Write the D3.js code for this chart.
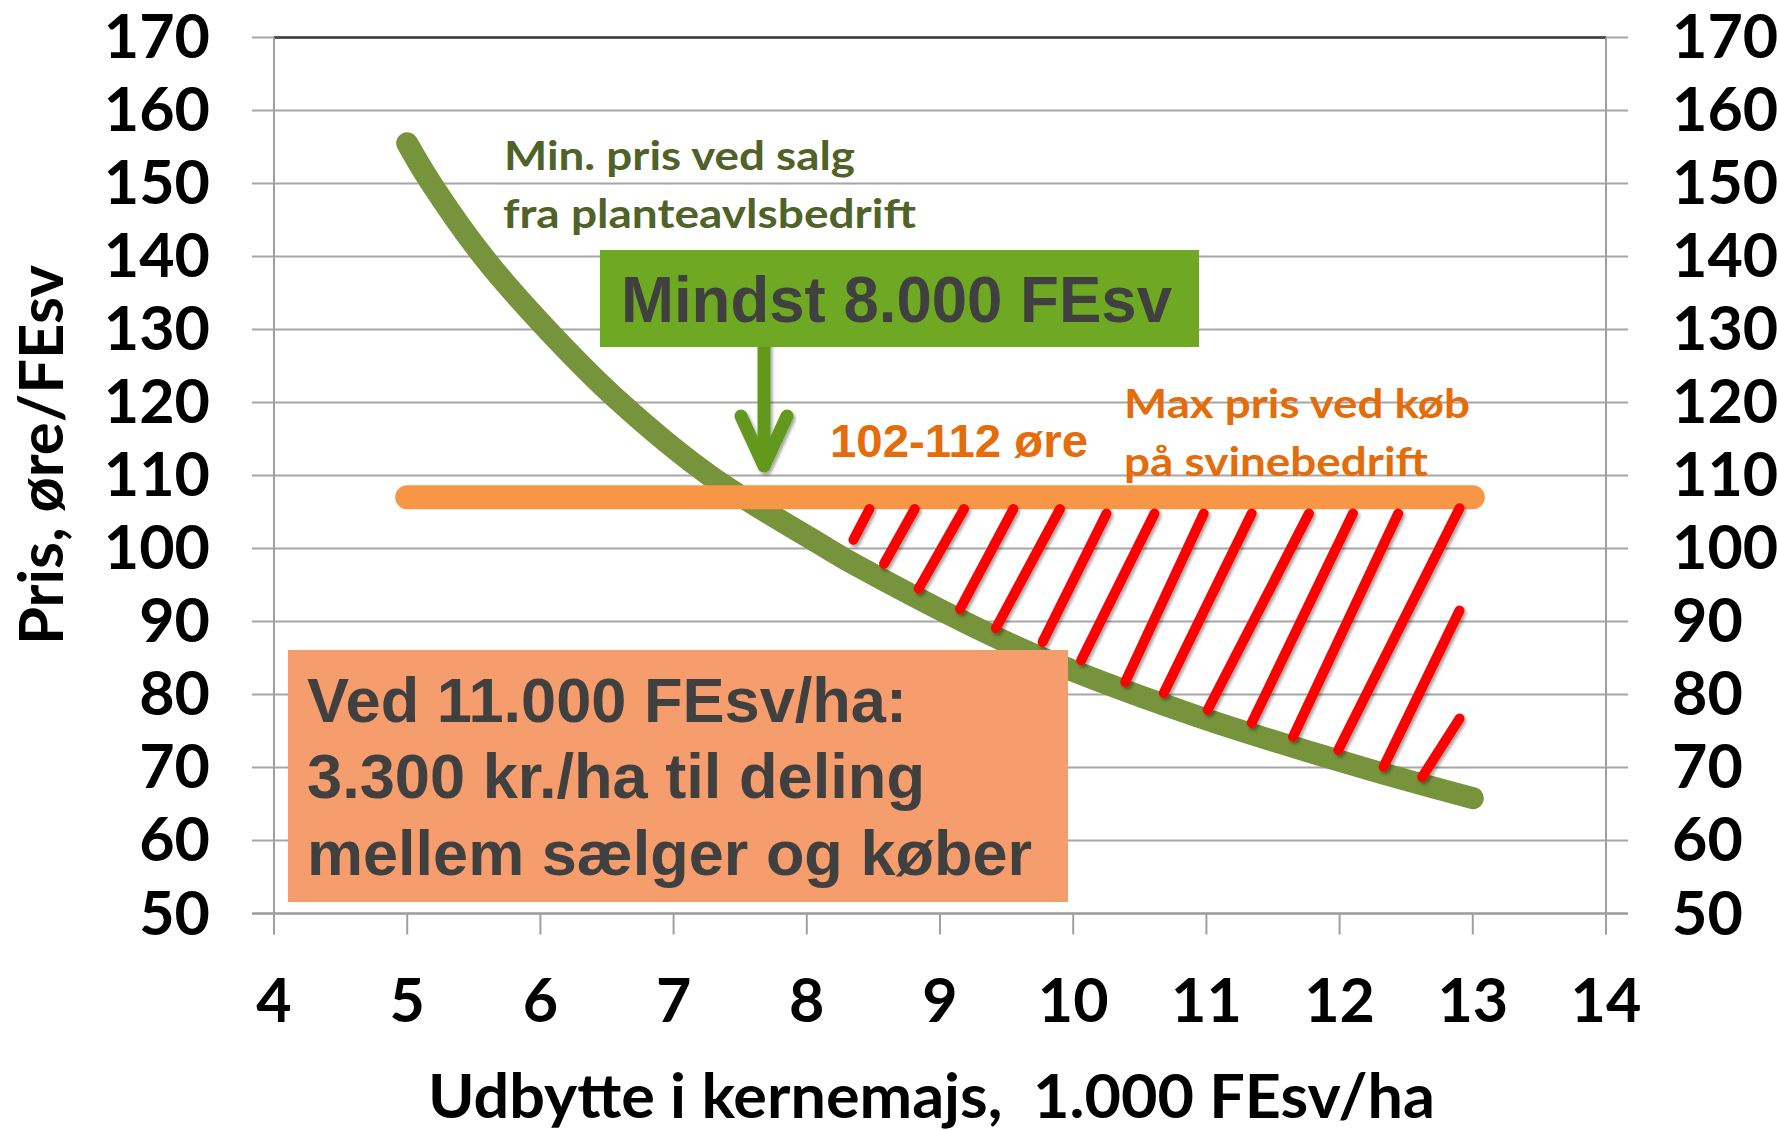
<!DOCTYPE html>
<html>
<head>
<meta charset="utf-8">
<script src="https://cdn.jsdelivr.net/npm/d3@7"></script>
<style>
  body { margin: 0; background: #fff; }
  text { white-space: pre; }
</style>
</head>
<body>
<svg id="viz"></svg>
<script>
// axis ticks
const xTicks = [4, 5, 6, 7, 8, 9, 10, 11, 12, 13, 14];
const yTicks = [50, 60, 70, 80, 90, 100, 110, 120, 130, 140, 150, 160, 170];

// min price when selling from the crop farm (green curve)
const yieldX = [5, 5.17, 5.57, 6.05, 6.6, 7.27, 8.1, 8.4, 9.65, 10.9, 12.15, 13];
const minPrice = [155.5, 150.3, 140, 130, 120, 110, 100.6, 97.4, 85.9, 77.2, 70.1, 65.8];

// max price when buying at the pig farm (orange line)
const maxPriceX = [5, 13];
const maxPrice = [107, 107];

// red hatch strokes between the two curves
const hatchX1 = [8.47, 8.81, 9.18, 9.55, 9.90, 10.25, 10.61, 10.98, 11.34, 11.77, 12.10, 12.44, 12.90, 12.90, 12.90];
const hatchY1 = [105.4, 105.4, 105.4, 105.4, 105.4, 104.8, 104.8, 104.8, 104.8, 104.8, 104.8, 104.8, 105.5, 91.5, 76.7];
const hatchX2 = [8.35, 8.58, 8.84, 9.15, 9.42, 9.77, 10.06, 10.39, 10.68, 11.01, 11.34, 11.65, 11.99, 12.33, 12.62];
const hatchY2 = [101.2, 97.9, 94.5, 91.7, 89.1, 87.2, 84.7, 81.7, 80.2, 77.9, 76.1, 74.2, 72.4, 70.1, 68.7];

const W = 1777, H = 1131;
const svg = d3.select("#viz").attr("width", W).attr("height", H);

const x = d3.scaleLinear().domain([4, 14]).range([274, 1606]);
const y = d3.scaleLinear().domain([50, 170]).range([913.5, 37.4]);

const calibri = "Lato, 'Open Sans', sans-serif";
const arial = "'Liberation Sans', Arial, sans-serif";

// drop shadow for the hatch + arrow
const defs = svg.append("defs");
const f = defs.append("filter").attr("id", "shadow")
  .attr("x", "-20%").attr("y", "-20%").attr("width", "140%").attr("height", "140%");
f.append("feDropShadow").attr("dx", 2).attr("dy", 2.5).attr("stdDeviation", 1.6)
  .attr("flood-color", "#000").attr("flood-opacity", 0.35);

// gridlines (with outside ticks on both sides)
svg.append("g").selectAll("line")
  .data(yTicks)
  .join("line")
  .attr("x1", x(4) - 22).attr("x2", x(14) + 22)
  .attr("y1", d => y(d)).attr("y2", d => y(d))
  .attr("stroke", d => d === 50 ? "#9a9a9a" : "#a6a6a6")
  .attr("stroke-width", d => d === 50 ? 2.5 : 2);

// top border
svg.append("line")
  .attr("x1", x(4)).attr("x2", x(14)).attr("y1", y(170)).attr("y2", y(170))
  .attr("stroke", "#3a3a3a").attr("stroke-width", 2.5);

// vertical axis lines
svg.append("g").selectAll("line")
  .data([4, 14])
  .join("line")
  .attr("x1", d => x(d)).attr("x2", d => x(d))
  .attr("y1", y(170)).attr("y2", y(50) + 21)
  .attr("stroke", "#a0a0a0").attr("stroke-width", 2);

// x ticks
svg.append("g").selectAll("line")
  .data(xTicks)
  .join("line")
  .attr("x1", d => x(d)).attr("x2", d => x(d))
  .attr("y1", y(50)).attr("y2", y(50) + 21)
  .attr("stroke", "#a0a0a0").attr("stroke-width", 2);

// tick labels
const tickFont = { family: calibri, size: 61 };
svg.append("g").selectAll("text")
  .data(yTicks)
  .join("text")
  .attr("x", 210).attr("y", d => y(d) + 21)
  .attr("text-anchor", "end")
  .attr("font-family", tickFont.family).attr("font-weight", 700).attr("font-size", tickFont.size)
  .attr("fill", "#000")
  .text(d => d);

svg.append("g").selectAll("text")
  .data(yTicks)
  .join("text")
  .attr("x", 1672).attr("y", d => y(d) + 21)
  .attr("text-anchor", "start")
  .attr("font-family", tickFont.family).attr("font-weight", 700).attr("font-size", tickFont.size)
  .attr("fill", "#000")
  .text(d => d);

svg.append("g").selectAll("text")
  .data(xTicks)
  .join("text")
  .attr("x", d => x(d)).attr("y", 1022)
  .attr("text-anchor", "middle")
  .attr("font-family", tickFont.family).attr("font-weight", 700).attr("font-size", tickFont.size)
  .attr("fill", "#000")
  .text(d => d);

// axis titles
svg.append("text")
  .attr("x", 931.5).attr("y", 1118)
  .attr("text-anchor", "middle")
  .attr("font-family", calibri).attr("font-weight", 700).attr("font-size", 61)
  .attr("textLength", 1007).attr("lengthAdjust", "spacingAndGlyphs")
  .text("Udbytte i kernemajs,  1.000 FEsv/ha");

svg.append("text")
  .attr("transform", "translate(63,455) rotate(-90)")
  .attr("text-anchor", "middle")
  .attr("font-family", calibri).attr("font-weight", 700).attr("font-size", 61)
  .attr("textLength", 380).attr("lengthAdjust", "spacingAndGlyphs")
  .text("Pris, øre/FEsv");

// green curve
const curvePts = yieldX.map((v, i) => [v, minPrice[i]]);
svg.append("path")
  .datum(curvePts)
  .attr("d", d3.line().x(d => x(d[0])).y(d => y(d[1])).curve(d3.curveCatmullRom.alpha(0.5)))
  .attr("fill", "none")
  .attr("stroke", "#77933c")
  .attr("stroke-width", 22)
  .attr("stroke-linecap", "round");

// orange line
svg.append("path")
  .datum(maxPriceX.map((v, i) => [v, maxPrice[i]]))
  .attr("d", d3.line().x(d => x(d[0])).y(d => y(d[1])))
  .attr("fill", "none")
  .attr("stroke", "#f79646")
  .attr("stroke-width", 24)
  .attr("stroke-linecap", "round");

// red hatch
svg.append("g").attr("filter", "url(#shadow)")
  .selectAll("line")
  .data(hatchX1.map((v, i) => i))
  .join("line")
  .attr("x1", i => x(hatchX1[i])).attr("y1", i => y(hatchY1[i]))
  .attr("x2", i => x(hatchX2[i])).attr("y2", i => y(hatchY2[i]))
  .attr("stroke", "#ff0000")
  .attr("stroke-width", 10)
  .attr("stroke-linecap", "round");

// green label above curve
const gText = svg.append("g")
  .attr("font-family", calibri).attr("font-weight", 700).attr("font-size", 41)
  .attr("fill", "#4f6228");
gText.append("text").attr("x", 504).attr("y", 170)
  .attr("textLength", 351).attr("lengthAdjust", "spacingAndGlyphs")
  .text("Min. pris ved salg");
gText.append("text").attr("x", 503).attr("y", 228)
  .attr("textLength", 413).attr("lengthAdjust", "spacingAndGlyphs")
  .text("fra planteavlsbedrift");

// orange labels
const oText = svg.append("g")
  .attr("font-family", calibri).attr("font-weight", 700).attr("font-size", 41)
  .attr("fill", "#e46c0a");
oText.append("text").attr("x", 1124).attr("y", 418)
  .attr("textLength", 346).attr("lengthAdjust", "spacingAndGlyphs")
  .text("Max pris ved køb");
oText.append("text").attr("x", 1124).attr("y", 476)
  .attr("textLength", 304).attr("lengthAdjust", "spacingAndGlyphs")
  .text("på svinebedrift");

svg.append("text").attr("x", 830).attr("y", 457)
  .attr("font-family", arial).attr("font-weight", 700).attr("font-size", 47)
  .attr("fill", "#e46c0a")
  .attr("textLength", 258).attr("lengthAdjust", "spacingAndGlyphs")
  .text("102-112 øre");

// arrow from green box
const arrow = svg.append("g").attr("filter", "url(#shadow)")
  .attr("stroke", "#62991f").attr("stroke-width", 13).attr("fill", "none");
arrow.append("line").attr("x1", 764).attr("x2", 764).attr("y1", 340).attr("y2", 466)
  .attr("stroke-linecap", "butt");
arrow.append("path").attr("d", "M741,416 L764,466 L787,416")
  .attr("stroke-linecap", "round").attr("stroke-linejoin", "round");

// green box
svg.append("rect").attr("x", 600).attr("y", 250).attr("width", 599).attr("height", 97)
  .attr("fill", "#6fa823");
svg.append("text").attr("x", 621).attr("y", 322)
  .attr("font-family", arial).attr("font-weight", 700).attr("font-size", 64)
  .attr("fill", "#404040")
  .attr("textLength", 551).attr("lengthAdjust", "spacingAndGlyphs")
  .text("Mindst 8.000 FEsv");

// orange box
svg.append("rect").attr("x", 288).attr("y", 650).attr("width", 780).attr("height", 252)
  .attr("fill", "#f59d6c");
const boxLines = [
  ["Ved 11.000 FEsv/ha:", 722, 600],
  ["3.300 kr./ha til deling", 798, 618],
  ["mellem sælger og køber", 875, 725]
];
svg.append("g").selectAll("text")
  .data(boxLines)
  .join("text")
  .attr("x", 307).attr("y", d => d[1])
  .attr("font-family", arial).attr("font-weight", 700).attr("font-size", 63)
  .attr("fill", "#404040")
  .attr("textLength", d => d[2]).attr("lengthAdjust", "spacingAndGlyphs")
  .text(d => d[0]);
</script>
</body>
</html>
